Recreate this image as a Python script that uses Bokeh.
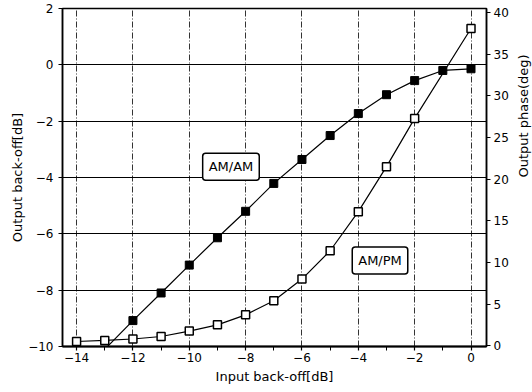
import numpy as np
from bokeh.plotting import figure
from bokeh.models import Range1d, LinearAxis, Label, FixedTicker
from bokeh.embed import file_html
from bokeh.resources import INLINE

# ---- data ----
am_am_x = [-13, -12, -11, -10, -9, -8, -7, -6, -5, -4, -3, -2, -1, 0]
am_am = [-10.1, -9.08, -8.1, -7.11, -6.14, -5.2, -4.21, -3.36, -2.51, -1.73, -1.06, -0.56, -0.2, -0.14]

am_pm_x = [-14, -13, -12, -11, -10, -9, -8, -7, -6, -5, -4, -3, -2, 0]
am_pm = [0.5, 0.63, 0.8, 1.1, 1.75, 2.5, 3.7, 5.4, 8.0, 11.4, 16.1, 21.5, 27.3, 38.1]

x_ticks = [-14, -12, -10, -8, -6, -4, -2, 0]
x_minor_ticks = [-13, -11, -9, -7, -5, -3, -1]
left_ticks = [-10, -8, -6, -4, -2, 0, 2]
right_ticks = [0, 5, 10, 15, 20, 25, 30, 35, 40]

FONT = "DejaVu Sans"

p = figure(frame_width=424, frame_height=338,
           x_range=Range1d(-14.5, 0.55), y_range=Range1d(-10, 2),
           output_backend="svg", toolbar_location=None,
           min_border_left=62, min_border_right=44,
           min_border_top=8, min_border_bottom=40,
           background_fill_color="white", border_fill_color="white")
p.extra_y_ranges = {"phase": Range1d(-0.1, 40.5)}

p.outline_line_color = "black"
p.outline_line_width = 1.5

# grids
p.ygrid.ticker = FixedTicker(ticks=left_ticks)
p.ygrid.grid_line_color = "black"
p.ygrid.grid_line_width = 1.2
p.xgrid.ticker = FixedTicker(ticks=x_ticks)
p.xgrid.grid_line_color = "#333333"
p.xgrid.grid_line_width = 1
p.xgrid.grid_line_dash = "6 2 1 2"

# bottom axis
xa = p.xaxis[0]
xa.ticker = FixedTicker(ticks=x_ticks, minor_ticks=x_minor_ticks)
xa.axis_label = "Input back-off[dB]"
# left axis
ya = p.yaxis[0]
ya.ticker = FixedTicker(ticks=left_ticks)
ya.axis_label = "Output back-off[dB]"
ya.minor_tick_line_color = None

ra = LinearAxis(y_range_name="phase", ticker=FixedTicker(ticks=right_ticks))
ra.minor_tick_line_color = None
ra.axis_label = "Output phase(deg)"
try:
    ra.axis_label_orientation = np.pi / 2
except Exception:
    pass
p.add_layout(ra, "right")

for ax in (xa, ya, ra):
    ax.axis_line_color = "black"
    ax.axis_line_width = 1.5
    ax.major_tick_line_color = "black"
    ax.major_tick_line_width = 1.2
    ax.major_tick_out = 4
    ax.major_tick_in = 0
    ax.minor_tick_out = 4
    ax.minor_tick_in = 0
    ax.major_label_text_font = FONT
    ax.major_label_text_font_size = "12px"
    ax.major_label_text_color = "black"
    ax.axis_label_text_font = FONT
    ax.axis_label_text_font_size = "13px"
    ax.axis_label_text_font_style = "normal"
    ax.axis_label_text_color = "black"

xa.axis_line_width = 2
xa.minor_tick_line_color = "black"
xa.major_label_standoff = 2
xa.axis_label_standoff = 4
ya.major_label_standoff = 5
ya.axis_label_standoff = 0
ra.major_label_standoff = 3
ra.axis_label_standoff = 12
ra.axis_label_text_align = "center"

# AM/PM (right axis)
p.line(am_pm_x, am_pm, y_range_name="phase", line_color="black", line_width=1.2)
p.scatter(am_pm_x, am_pm, y_range_name="phase", marker="square", size=8,
          fill_color="white", line_color="black", line_width=1.5)

# AM/AM (left axis)
p.line(am_am_x, am_am, line_color="black", line_width=1.2)
p.scatter(am_am_x[1:], am_am[1:], marker="square", size=8,
          fill_color="black", line_color="black")

for txt, lx, ly in (("AM/AM", -8.52, -3.62), ("AM/PM", -3.23, -6.95)):
    p.add_layout(Label(x=lx, y=ly, text=txt, text_align="center", text_baseline="middle",
                       text_font=FONT, text_font_size="13px", text_color="black",
                       border_line_color="black", border_line_width=1.5,
                       background_fill_color="white", padding=6, border_radius=3))

open("out.html", "w").write(file_html(p, INLINE))
